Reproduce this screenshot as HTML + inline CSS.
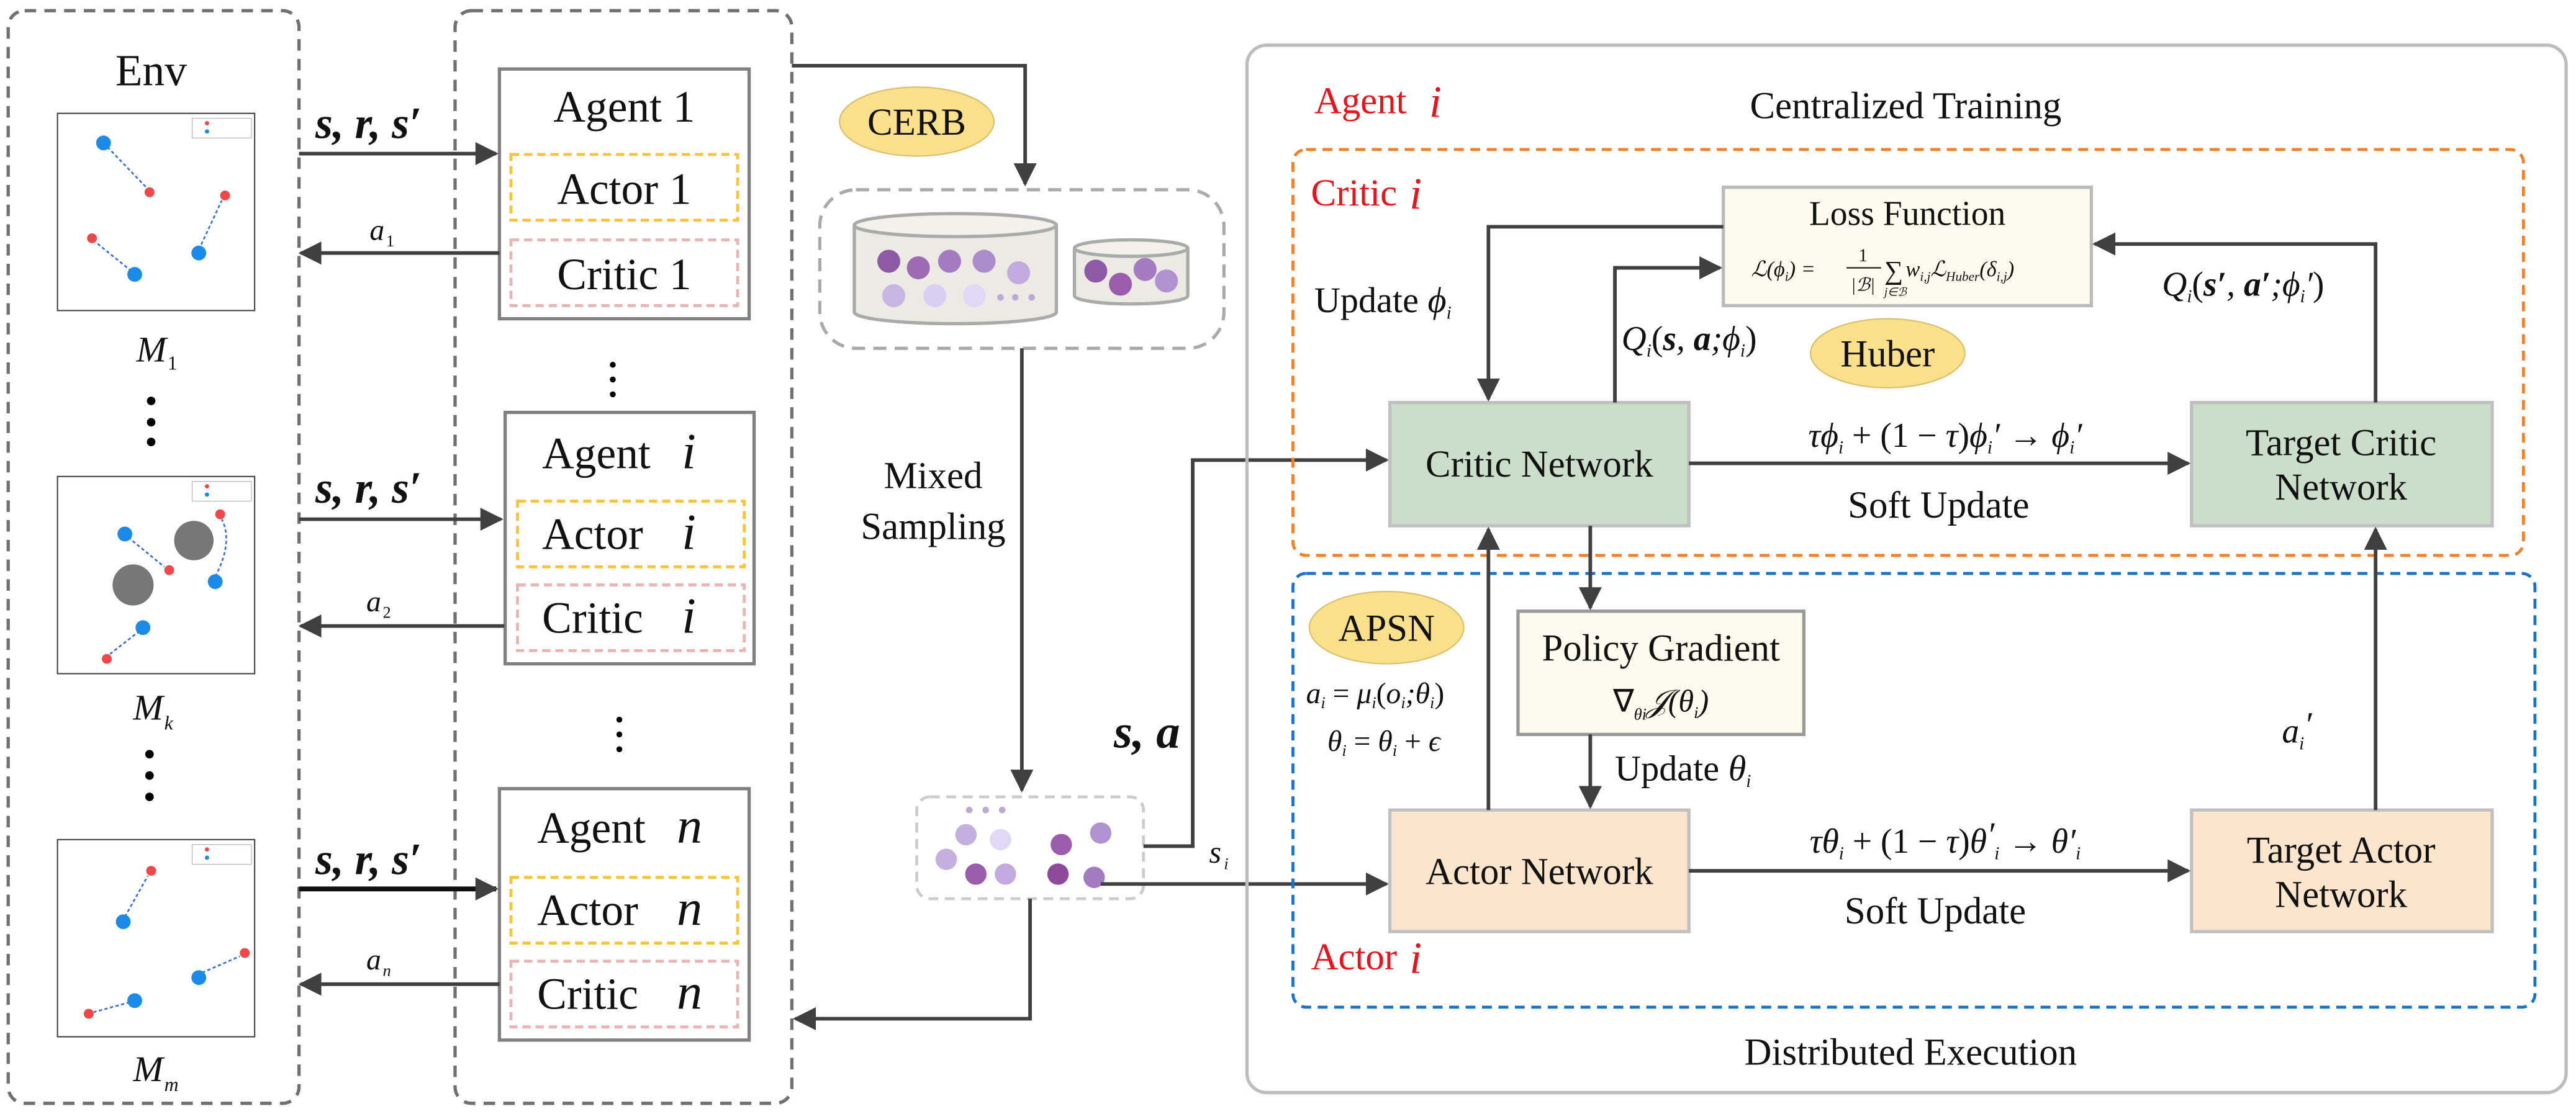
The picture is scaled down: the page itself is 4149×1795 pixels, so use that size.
<!DOCTYPE html>
<html><head><meta charset="utf-8"><style>
html,body{margin:0;padding:0;background:#fff;font-family:"Times New Roman","Liberation Serif",Times,serif;}
svg{display:block;font-family:"Times New Roman","Liberation Serif",Times,serif;}
svg text{font-family:"Times New Roman","Liberation Serif",Times,serif !important;fill:#111;}
.it{font-style:italic;}
.bi{font-style:italic;font-weight:bold;}
svg text.red,svg tspan.red{fill:#e8141b;}
</style></head><body>
<svg width="4149" height="1795" viewBox="0 0 1568 678" preserveAspectRatio="none" xmlns="http://www.w3.org/2000/svg" font-family="Times New Roman, Liberation Serif, serif">
<defs>
<marker id="ar2" viewBox="0 0 10 10" refX="9" refY="5" markerWidth="16" markerHeight="14" orient="auto" markerUnits="userSpaceOnUse">
<path d="M0,0 L10,5 L0,10 Z" fill="#404040"/></marker>
</defs>
<rect x="5" y="6.5" width="177" height="665" rx="10" fill="none" stroke="#707070" stroke-width="2" stroke-dasharray="7,5"/>
<text x="92" y="52" font-size="27" text-anchor="middle">Env</text>
<g stroke="#444" stroke-width="0.8" fill="#fff">
<rect x="35" y="69" width="120" height="120"/>
<rect x="35" y="290" width="120" height="120"/>
<rect x="35" y="511" width="120" height="120"/>
</g>
<g stroke="#bbb" stroke-width="0.5" fill="none">
<rect x="117" y="72" width="36" height="12"/><rect x="117" y="293" width="36" height="12"/><rect x="117" y="514" width="36" height="12"/>
</g>
<g>
<circle cx="126" cy="75" r="1.3" fill="#f04848"/><circle cx="126" cy="80" r="1.3" fill="#1a8be8"/>
<circle cx="126" cy="296" r="1.3" fill="#f04848"/><circle cx="126" cy="301" r="1.3" fill="#1a8be8"/>
<circle cx="126" cy="517" r="1.3" fill="#f04848"/><circle cx="126" cy="522" r="1.3" fill="#1a8be8"/>
</g>
<g stroke="#3a6fd0" stroke-width="1" stroke-dasharray="2,1.5" fill="none">
<line x1="63" y1="87" x2="89" y2="114"/><line x1="121" y1="152" x2="135" y2="122"/><line x1="80" y1="165" x2="59" y2="148"/>
<line x1="78" y1="327" x2="100" y2="345"/><path d="M131,351 Q142,330 135,316"/><line x1="85" y1="384" x2="67" y2="398"/>
<line x1="76" y1="558" x2="90" y2="533"/><line x1="123" y1="592" x2="146" y2="582"/><line x1="79" y1="610" x2="57" y2="616"/>
</g>
<g fill="#1a8be8">
<circle cx="63" cy="87" r="4.5"/><circle cx="121" cy="154" r="4.5"/><circle cx="82" cy="167" r="4.5"/>
<circle cx="76" cy="325" r="4.5"/><circle cx="131" cy="354" r="4.5"/><circle cx="87" cy="382" r="4.5"/>
<circle cx="75" cy="561" r="4.5"/><circle cx="121" cy="595" r="4.5"/><circle cx="82" cy="609" r="4.5"/>
</g>
<g fill="#f04848">
<circle cx="91" cy="117" r="3"/><circle cx="137" cy="119" r="3"/><circle cx="56" cy="145" r="3"/>
<circle cx="103" cy="347" r="3"/><circle cx="134" cy="313" r="3"/><circle cx="65" cy="401" r="3"/>
<circle cx="92" cy="530" r="3"/><circle cx="149" cy="580" r="3"/><circle cx="54" cy="617" r="3"/>
</g>
<circle cx="118" cy="329" r="12" fill="#777"/><circle cx="81" cy="356" r="12.5" fill="#777"/>
<text x="83" y="220" font-size="22" class="it">M</text><text x="102" y="225" font-size="12">1</text>
<text x="81" y="438" font-size="22" class="it">M</text><text x="100" y="444" font-size="12" class="it">k</text>
<text x="81" y="658" font-size="22" class="it">M</text><text x="100" y="664" font-size="12" class="it">m</text>
<g fill="#000">
<circle cx="92" cy="244" r="2.6"/><circle cx="92" cy="257" r="2.6"/><circle cx="92" cy="269" r="2.6"/>
<circle cx="91" cy="459" r="2.6"/><circle cx="91" cy="472" r="2.6"/><circle cx="91" cy="485" r="2.6"/>
<circle cx="373" cy="222" r="1.8"/><circle cx="373" cy="231" r="1.8"/><circle cx="373" cy="240" r="1.8"/>
<circle cx="377" cy="438" r="1.8"/><circle cx="377" cy="447" r="1.8"/><circle cx="377" cy="456" r="1.8"/>
</g>
<rect x="277" y="6.5" width="205" height="665" rx="10" fill="none" stroke="#707070" stroke-width="2" stroke-dasharray="7,5"/>
<g fill="#fff" stroke="#808080" stroke-width="2">
<rect x="304" y="42" width="152" height="152"/>
<rect x="307.5" y="251" width="151.5" height="153"/>
<rect x="304" y="480" width="152" height="153"/>
</g>
<g fill="none" stroke-width="1.8" stroke-dasharray="5,3">
<rect x="311" y="94" width="138" height="40" stroke="#f9c33a"/>
<rect x="311" y="146" width="138" height="40" stroke="#e8b4b4"/>
<rect x="315" y="305" width="138" height="40" stroke="#f9c33a"/>
<rect x="315" y="356" width="138" height="40" stroke="#e8b4b4"/>
<rect x="311" y="534" width="138" height="40" stroke="#f9c33a"/>
<rect x="311" y="585" width="138" height="40" stroke="#e8b4b4"/>
</g>
<g font-size="27" text-anchor="middle">
<text x="380" y="74">Agent 1</text><text x="380" y="124">Actor 1</text><text x="380" y="176">Critic 1</text>
</g>
<g font-size="27">
<text x="330" y="285">Agent</text><text x="415" y="285" class="it" font-size="31">i</text>
<text x="330" y="334">Actor</text><text x="415" y="334" class="it" font-size="31">i</text>
<text x="330" y="385">Critic</text><text x="415" y="385" class="it" font-size="31">i</text>
<text x="327" y="513">Agent</text><text x="412" y="513" class="it" font-size="31">n</text>
<text x="327" y="563">Actor</text><text x="412" y="563" class="it" font-size="31">n</text>
<text x="327" y="614">Critic</text><text x="412" y="614" class="it" font-size="31">n</text>
</g>
<g stroke="#404040" stroke-width="2.2" fill="none" marker-end="url(#ar2)">
<line x1="182" y1="93.5" x2="302" y2="93.5"/>
<line x1="182" y1="316" x2="305" y2="316"/>
<line x1="182" y1="541" x2="302" y2="541" stroke="#111" stroke-width="3"/>
<line x1="304" y1="154" x2="183" y2="154"/>
<line x1="307" y1="381" x2="183" y2="381"/>
<line x1="304" y1="599" x2="183" y2="599"/>
</g>
<g font-size="27">
<text x="192" y="84" class="bi">s, r, s′</text>
<text x="192" y="306" class="bi">s, r, s′</text>
<text x="192" y="532" class="bi">s, r, s′</text>
</g>
<text x="225" y="146" font-size="18" class="it">a</text><text x="235" y="150" font-size="10">1</text>
<text x="223" y="372" font-size="18" class="it">a</text><text x="233" y="376" font-size="10">2</text>
<text x="223" y="590" font-size="18" class="it">a</text><text x="233" y="594" font-size="10" class="it">n</text>
<ellipse cx="558" cy="74" rx="47" ry="21" fill="#fbe08b" stroke="#d9bf6a" stroke-width="0.8"/>
<text x="558" y="82" font-size="23" text-anchor="middle">CERB</text>
<polyline points="482,40 624,40 624,112" fill="none" stroke="#404040" stroke-width="2.2" marker-end="url(#ar2)"/>
<rect x="499" y="115.5" width="246" height="96.5" rx="22" fill="none" stroke="#aaa" stroke-width="2" stroke-dasharray="8,5"/>
<path d="M520,137 L520,190 A61.5,7 0 0 0 643,190 L643,137" fill="#ebebe3" stroke="#aaa" stroke-width="2"/>
<ellipse cx="581.5" cy="137" rx="61.5" ry="7" fill="#f2f2ea" stroke="#aaa" stroke-width="2"/>
<path d="M654,151 L654,180 A34.5,5 0 0 0 723,180 L723,151" fill="#ebebe3" stroke="#aaa" stroke-width="2"/>
<ellipse cx="688.5" cy="151" rx="34.5" ry="5" fill="#f2f2ea" stroke="#aaa" stroke-width="2"/>
<g>
<circle cx="541" cy="159" r="7" fill="#8d5aa5"/><circle cx="559" cy="163" r="7" fill="#9c6bb3"/><circle cx="578" cy="159" r="7" fill="#a27bc0"/>
<circle cx="599" cy="159" r="7" fill="#ab8cca"/><circle cx="620" cy="166" r="7" fill="#c3aade"/>
<circle cx="544" cy="180" r="7" fill="#c7b6e2"/><circle cx="569" cy="180" r="7" fill="#d7d0f2"/><circle cx="593" cy="180" r="7" fill="#e0d9f6"/>
<circle cx="609" cy="181" r="2" fill="#bda8d8"/><circle cx="618" cy="181" r="2" fill="#bda8d8"/><circle cx="628" cy="181" r="2" fill="#bda8d8"/>
<circle cx="667" cy="165" r="7" fill="#8d5aa5"/><circle cx="682" cy="173" r="7" fill="#9c5cae"/><circle cx="697" cy="164" r="7" fill="#a27bc0"/><circle cx="710" cy="171" r="7" fill="#b192d0"/>
</g>
<text x="568" y="297" font-size="23" text-anchor="middle">Mixed</text>
<text x="568" y="328" font-size="23" text-anchor="middle">Sampling</text>
<line x1="622" y1="212" x2="622" y2="481" stroke="#404040" stroke-width="2.2" marker-end="url(#ar2)"/>
<rect x="558" y="485" width="138" height="62" rx="8" fill="none" stroke="#ccc" stroke-width="1.8" stroke-dasharray="6,4"/>
<g>
<circle cx="590" cy="493" r="2" fill="#bda8d8"/><circle cx="600" cy="493" r="2" fill="#bda8d8"/><circle cx="610" cy="493" r="2" fill="#bda8d8"/>
<circle cx="588" cy="508" r="6.5" fill="#c3b0e0"/><circle cx="609" cy="511" r="6.5" fill="#e0d9f6"/><circle cx="576" cy="523" r="6.5" fill="#c3b0e0"/>
<circle cx="594" cy="532" r="6.5" fill="#9c5cae"/><circle cx="612" cy="532" r="6.5" fill="#c3aade"/>
<circle cx="646" cy="514" r="6.5" fill="#9c5cae"/><circle cx="670" cy="507" r="6.5" fill="#b192d0"/>
<circle cx="644" cy="532" r="6.5" fill="#8d4a9c"/><circle cx="666" cy="534" r="6.5" fill="#a27bc0"/>
</g>
<polyline points="627,547 627,620 484,620" fill="none" stroke="#404040" stroke-width="2.2" marker-end="url(#ar2)"/>
<polyline points="696,515 726,515 726,280 844,280" fill="none" stroke="#404040" stroke-width="2.2" marker-end="url(#ar2)"/>
<polyline points="670,538 844,538" fill="none" stroke="#404040" stroke-width="2.2" marker-end="url(#ar2)"/>
<text x="678" y="455" font-size="29" class="bi">s, a</text>
<text x="736" y="525" font-size="19" class="it">s</text><text x="745" y="529" font-size="10" class="it">i</text>
<rect x="759" y="27.5" width="803" height="637.5" rx="12" fill="none" stroke="#bdbdbd" stroke-width="2"/>
<text x="800" y="69" font-size="23" class="red" fill="#e8141b">Agent</text><text x="870" y="71" font-size="27" class="it red" fill="#e8141b">i</text>
<text x="1160" y="72" font-size="23" text-anchor="middle">Centralized Training</text>
<rect x="787" y="91" width="749" height="247" rx="8" fill="none" stroke="#f0802a" stroke-width="1.8" stroke-dasharray="6,4"/>
<text x="798" y="125" font-size="23" class="red" fill="#e8141b">Critic</text><text x="858" y="127" font-size="27" class="it red" fill="#e8141b">i</text>
<rect x="787" y="349" width="756" height="264" rx="8" fill="none" stroke="#1a72c8" stroke-width="1.8" stroke-dasharray="6,4"/>
<text x="798" y="590" font-size="23" class="red" fill="#e8141b">Actor</text><text x="858" y="592" font-size="27" class="it red" fill="#e8141b">i</text>
<text x="1163" y="648" font-size="23" text-anchor="middle">Distributed Execution</text>
<rect x="1049" y="114" width="224" height="72" fill="#fcfbed" stroke="#bbb" stroke-width="2"/>
<text x="1161" y="137" font-size="21" text-anchor="middle">Loss Function</text>
<text x="1066" y="168" font-size="13" class="it">ℒ(ϕ<tspan font-size="8" dy="3">i</tspan><tspan dy="-3">) =</tspan></text>
<text x="1134" y="159" font-size="11" text-anchor="middle">1</text>
<line x1="1124" y1="163" x2="1145" y2="163" stroke="#111" stroke-width="0.8"/>
<text x="1134" y="177" font-size="11" text-anchor="middle" class="it">|ℬ|</text>
<text x="1147" y="170" font-size="16">∑</text>
<text x="1147" y="180" font-size="7" class="it">j∈ℬ</text>
<text x="1160" y="168" font-size="13" class="it">w<tspan font-size="8" dy="3">i,j</tspan><tspan dy="-3">ℒ</tspan><tspan font-size="8" dy="3">Huber</tspan><tspan dy="-3">(δ</tspan><tspan font-size="8" dy="3">i,j</tspan><tspan dy="-3">)</tspan></text>
<rect x="846" y="245" width="182" height="75" fill="#cadeca" stroke="#c0c0c0" stroke-width="2"/>
<text x="937" y="290" font-size="23" text-anchor="middle">Critic Network</text>
<rect x="1334" y="245" width="183" height="75" fill="#cadeca" stroke="#c0c0c0" stroke-width="2"/>
<text x="1425" y="277" font-size="23" text-anchor="middle">Target Critic</text>
<text x="1425" y="304" font-size="23" text-anchor="middle">Network</text>
<rect x="846" y="493" width="182" height="74" fill="#fbe5cc" stroke="#c0c0c0" stroke-width="2"/>
<text x="937" y="538" font-size="23" text-anchor="middle">Actor Network</text>
<rect x="1334" y="493" width="183" height="74" fill="#fbe5cc" stroke="#c0c0c0" stroke-width="2"/>
<text x="1425" y="525" font-size="23" text-anchor="middle">Target Actor</text>
<text x="1425" y="552" font-size="23" text-anchor="middle">Network</text>
<rect x="924" y="372" width="174" height="75" fill="#fcfbed" stroke="#999" stroke-width="2"/>
<text x="1011" y="402" font-size="23" text-anchor="middle">Policy Gradient</text>
<text x="1011" y="433" font-size="19" text-anchor="middle" class="it"><tspan font-style="normal">∇</tspan><tspan font-size="10" dy="5">θi</tspan><tspan dy="-5">𝒥(θ</tspan><tspan font-size="10" dy="4">i</tspan><tspan dy="-4">)</tspan></text>
<ellipse cx="1149" cy="215" rx="47" ry="21" fill="#fbe08b" stroke="#d9bf6a" stroke-width="0.8"/>
<text x="1149" y="223" font-size="23" text-anchor="middle">Huber</text>
<ellipse cx="844" cy="382" rx="47" ry="22" fill="#fbe08b" stroke="#d9bf6a" stroke-width="0.8"/>
<text x="844" y="390" font-size="23" text-anchor="middle">APSN</text>
<g stroke="#404040" stroke-width="2.2" fill="none" marker-end="url(#ar2)">
<polyline points="1049,138 906,138 906,243"/>
<polyline points="983,245 983,163 1047,163"/>
<polyline points="1446,245 1446,148.5 1275,148.5"/>
<line x1="1028" y1="282" x2="1332" y2="282"/>
<line x1="1028" y1="530" x2="1332" y2="530"/>
<line x1="968" y1="320" x2="968" y2="370"/>
<line x1="968" y1="447" x2="968" y2="491"/>
<line x1="906" y1="493" x2="906" y2="322"/>
<line x1="1446" y1="493" x2="1446" y2="322"/>
</g>
<text x="800" y="190" font-size="22">Update <tspan class="it">ϕ</tspan><tspan font-size="11" class="it" dy="4">i</tspan></text>
<text x="987" y="213" font-size="21" class="it">Q<tspan font-size="11" dy="4">i</tspan><tspan dy="-4" font-style="normal">(</tspan><tspan font-weight="bold">s</tspan>, <tspan font-weight="bold">a</tspan>;ϕ<tspan font-size="11" dy="4">i</tspan><tspan dy="-4" font-style="normal">)</tspan></text>
<text x="1316" y="180" font-size="21" class="it">Q<tspan font-size="11" dy="4">i</tspan><tspan dy="-4" font-style="normal">(</tspan><tspan font-weight="bold">s′</tspan>, <tspan font-weight="bold">a′</tspan>;ϕ<tspan font-size="11" dy="4">i</tspan><tspan dy="-4">′</tspan><tspan font-style="normal">)</tspan></text>
<text x="1184" y="272" font-size="21" text-anchor="middle" class="it">τϕ<tspan font-size="11" dy="4">i</tspan><tspan dy="-4" font-style="normal"> + (1 − </tspan>τ<tspan font-style="normal">)</tspan>ϕ<tspan font-size="11" dy="4">i</tspan><tspan dy="-4">′ → ϕ</tspan><tspan font-size="11" dy="4">i</tspan><tspan dy="-4">′</tspan></text>
<text x="1180" y="315" font-size="23" text-anchor="middle">Soft Update</text>
<text x="1184" y="519" font-size="21" text-anchor="middle" class="it">τθ<tspan font-size="11" dy="4">i</tspan><tspan dy="-4" font-style="normal"> + (1 − </tspan>τ<tspan font-style="normal">)</tspan>θ<tspan dy="-4">′</tspan><tspan font-size="11" dy="8">i</tspan><tspan dy="-4"> → θ′</tspan><tspan font-size="11" dy="4">i</tspan></text>
<text x="1178" y="562" font-size="23" text-anchor="middle">Soft Update</text>
<text x="983" y="475" font-size="22">Update <tspan class="it">θ</tspan><tspan font-size="11" class="it" dy="4">i</tspan></text>
<text x="1389" y="452" font-size="21" class="it">a<tspan font-size="11" dy="4">i</tspan><tspan dy="-8">′</tspan></text>
<text x="795" y="428" font-size="18" class="it">a<tspan font-size="10" dy="3">i</tspan><tspan dy="-3" font-style="normal"> = </tspan>μ<tspan font-size="10" dy="3">i</tspan><tspan dy="-3" font-style="normal">(</tspan>o<tspan font-size="10" dy="3">i</tspan><tspan dy="-3">;θ</tspan><tspan font-size="10" dy="3">i</tspan><tspan dy="-3" font-style="normal">)</tspan></text>
<text x="808" y="457" font-size="18" class="it">θ<tspan font-size="10" dy="3">i</tspan><tspan dy="-3" font-style="normal"> = </tspan>θ<tspan font-size="10" dy="3">i</tspan><tspan dy="-3" font-style="normal"> + </tspan>ϵ</text>
</svg>
</body></html>
